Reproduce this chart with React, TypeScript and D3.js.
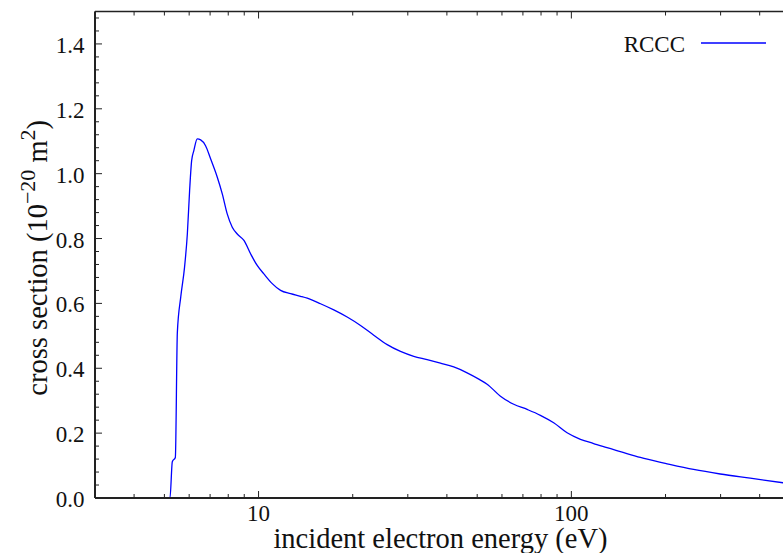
import React from 'react';
import * as d3 from 'd3';

const energy = [3, 5.21, 5.3, 5.42, 5.5, 5.64, 5.8, 5.92, 6.02, 6.11, 6.21, 6.37, 6.53, 6.77, 7.03, 7.38, 7.66, 7.94, 8.24, 8.55, 8.98, 9.43, 9.9, 10.4, 11.06, 11.76, 12.66, 13.62, 14.31, 15.78, 17.4, 19.2, 21.18, 23.35, 25.78, 28.43, 31.35, 34.59, 38.15, 42.07, 46.43, 50.93, 53.79, 59.33, 65.43, 72.22, 79.61, 87.8, 96.9, 106.9, 117.8, 130, 143.4, 166.2, 199.7, 245.9, 299.2, 373.2, 474.7, 500];
const crossSection = [0, 0, 0.112, 0.125, 0.51, 0.62, 0.712, 0.814, 0.948, 1.04, 1.071, 1.107, 1.104, 1.086, 1.045, 0.989, 0.937, 0.876, 0.835, 0.814, 0.794, 0.753, 0.717, 0.691, 0.661, 0.64, 0.63, 0.622, 0.616, 0.599, 0.58, 0.558, 0.532, 0.502, 0.473, 0.452, 0.437, 0.427, 0.416, 0.404, 0.386, 0.365, 0.351, 0.314, 0.289, 0.273, 0.255, 0.232, 0.201, 0.181, 0.168, 0.155, 0.143, 0.125, 0.107, 0.088, 0.074, 0.061, 0.047, 0.044];
const yTickValues = [0, 0.2, 0.4, 0.6, 0.8, 1.0, 1.2, 1.4];
const xTickValues = [10, 100];
const legendLabel = 'RCCC';

const W = 783;
const H = 553;
const left = 95;
const right = 790;
const top = 11.5;
const bottom = 498;
const font = '"Liberation Serif", "Times New Roman", serif';

export default function App() {
  const x = d3.scaleLog().domain([3, 500]).range([left, right]);
  const y = d3.scaleLinear().domain([0, 1.5]).range([bottom, top]);
  const pts: [number, number][] = energy.map((e, i) => [e, crossSection[i]]);
  const line = d3
    .line<[number, number]>()
    .x((d) => x(d[0]))
    .y((d) => y(d[1]))
    .curve(d3.curveMonotoneX);

  const xMinor: number[] = [];
  [1, 10, 100].forEach((dec) => {
    for (let m = 2; m <= 9; m++) {
      const v = m * dec;
      if (v >= 3 && v <= 500) xMinor.push(v);
    }
  });
  const yMinor: number[] = [];
  for (let i = 0; i <= 37; i++) {
    const v = +(i * 0.04).toFixed(2);
    if (Math.abs(v / 0.2 - Math.round(v / 0.2)) > 1e-6) yMinor.push(v);
  }
  const stroke = '#222';

  return (
    <svg width={W} height={H} style={{ position: 'absolute', left: 0, top: 0, background: '#fff' }}>
      <rect x={0} y={0} width={W} height={H} fill="#fff" />
      <path d={line(pts) || ''} fill="none" stroke="#0000ff" strokeWidth={1.3} />
      {xTickValues.map((v) => (
        <g key={'xt' + v}>
          <line x1={x(v)} x2={x(v)} y1={bottom} y2={bottom - 7} stroke={stroke} strokeWidth={1} />
          <line x1={x(v)} x2={x(v)} y1={top} y2={top + 7} stroke={stroke} strokeWidth={1} />
          <text x={x(v)} y={521} textAnchor="middle" fontFamily={font} fontSize={23} fill="#111">
            {v}
          </text>
        </g>
      ))}
      {xMinor.map((v) => (
        <g key={'xm' + v}>
          <line x1={x(v)} x2={x(v)} y1={bottom} y2={bottom - 4} stroke={stroke} strokeWidth={1} />
          <line x1={x(v)} x2={x(v)} y1={top} y2={top + 4} stroke={stroke} strokeWidth={1} />
        </g>
      ))}
      {yTickValues.map((v) => (
        <g key={'yt' + v}>
          <line x1={left} x2={left + 7} y1={y(v)} y2={y(v)} stroke={stroke} strokeWidth={1} />
          <line x1={right} x2={right - 7} y1={y(v)} y2={y(v)} stroke={stroke} strokeWidth={1} />
          <text x={84.5} y={y(v) + 9} textAnchor="end" fontFamily={font} fontSize={23} fill="#111">
            {v.toFixed(1)}
          </text>
        </g>
      ))}
      {yMinor.map((v) => (
        <g key={'ym' + v}>
          <line x1={left} x2={left + 4} y1={y(v)} y2={y(v)} stroke={stroke} strokeWidth={1} />
          <line x1={right} x2={right - 4} y1={y(v)} y2={y(v)} stroke={stroke} strokeWidth={1} />
        </g>
      ))}
      <line x1={left} x2={right} y1={bottom} y2={bottom} stroke={stroke} strokeWidth={2} />
      <line x1={left} x2={right} y1={top} y2={top} stroke={stroke} strokeWidth={1.5} />
      <line x1={left} x2={left} y1={top} y2={bottom} stroke={stroke} strokeWidth={2} />
      <line x1={right} x2={right} y1={top} y2={bottom} stroke={stroke} strokeWidth={1.5} />
      <text x={685} y={52} textAnchor="end" fontFamily={font} fontSize={23} fill="#111">
        {legendLabel}
      </text>
      <line x1={701} x2={766} y1={43} y2={43} stroke="#0000ff" strokeWidth={1.3} />
      <text x={(left + right) / 2 - 2} y={548} textAnchor="middle" fontFamily={font} fontSize={28.5} fill="#111">
        incident electron energy (eV)
      </text>
      <text
        transform={`translate(47, ${(top + bottom) / 2 + 3}) rotate(-90)`}
        textAnchor="middle"
        fontFamily={font}
        fontSize={28.5}
        fill="#111"
      >
        cross section (10
        <tspan dy={-12} fontSize={22}>−20</tspan>
        <tspan dy={12}> m</tspan>
        <tspan dy={-12} fontSize={22}>2</tspan>
        <tspan dy={12}>)</tspan>
      </text>
    </svg>
  );
}
